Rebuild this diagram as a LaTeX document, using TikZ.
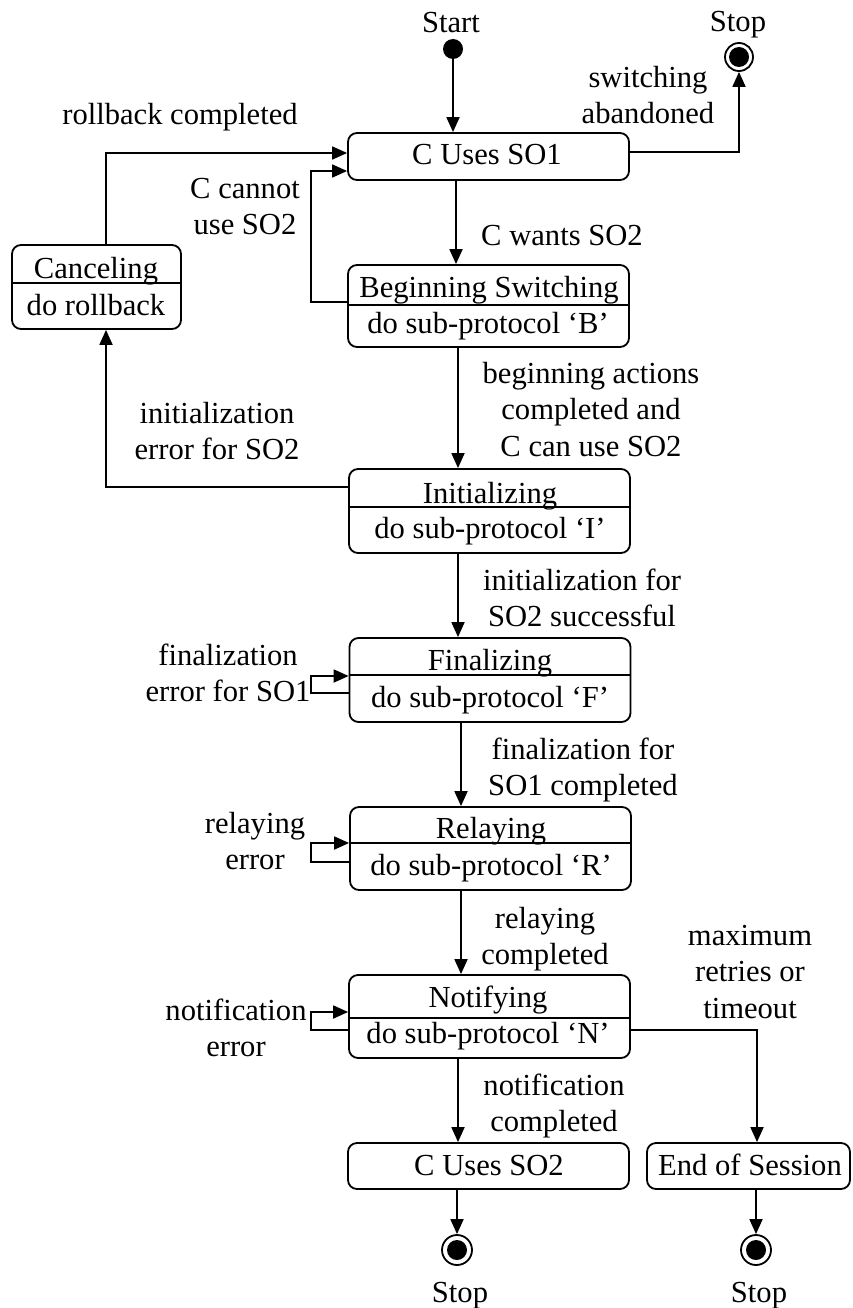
\documentclass[tikz,border=0pt]{standalone}
\usepackage{fontspec}
\setmainfont{Liberation Serif}
\usetikzlibrary{arrows.meta}
\begin{document}
\begin{tikzpicture}[x=1pt,y=-1pt,
  every node/.style={font=\fontsize{30.6}{36.6}\selectfont, inner sep=0pt},
  sbox/.style={draw, line width=1.8pt, rounded corners=9pt, minimum width=281pt},
  tr/.style={line width=1.8pt, -{Triangle[length=15pt,width=13pt]}},
  ln/.style={line width=1.8pt},
  lbl/.style={anchor=north, align=center},
  txt/.style={anchor=base},
  stopc/.style={circle, draw, line width=1.8pt, minimum size=28pt,
    path picture={\fill (path picture bounding box.center) circle (10pt);}},
  startc/.style={circle, fill, minimum size=20pt}
]
\useasboundingbox (0,0) rectangle (852,1308);

% start / stop
\node[txt] (startl) at (451,33) {Start};
\node[startc] (start) at (453,49) {};
\node[txt] (stop1l) at (738,32) {Stop};
\node[stopc] (stop1) at (739,57) {};

% C Uses SO1
\node[sbox, minimum height=47pt] (cus1) at (488.5,156.5) {};
\node[txt] (cus1t) at (487,165) {C Uses SO1};

% Beginning Switching
\node[sbox, minimum height=82pt] (bs) at (488.5,306) {};
\draw[ln] ([yshift=1pt]bs.west) -- ([yshift=1pt]bs.east);
\node[txt] (bst) at (489,297) {Beginning Switching};
\node[txt] (bsa) at (488,333) {do sub-protocol ‘B’};

% Canceling
\node[sbox, minimum width=169pt, minimum height=84pt] (canc) at (96.5,287) {};
\draw[ln] ([yshift=4pt]canc.west) -- ([yshift=4pt]canc.east);
\node[txt] (canct) at (96,278) {Canceling};
\node[txt] (canca) at (96,315) {do rollback};

% Initializing
\node[sbox, minimum height=84pt] (init) at (489.5,511) {};
\draw[ln] ([yshift=4pt]init.west) -- ([yshift=4pt]init.east);
\node[txt] (initt) at (490,503) {Initializing};
\node[txt] (inita) at (490,538) {do sub-protocol ‘I’};

% Finalizing
\node[sbox, minimum height=84pt] (fin) at (490,680) {};
\draw[ln] ([yshift=5pt]fin.west) -- ([yshift=5pt]fin.east);
\node[txt] (fint) at (490,670) {Finalizing};
\node[txt] (fina) at (490,707) {do sub-protocol ‘F’};

% Relaying
\node[sbox, minimum height=83pt] (rel) at (490.5,848.5) {};
\draw[ln] ([yshift=5.5pt]rel.west) -- ([yshift=5.5pt]rel.east);
\node[txt] (relt) at (491,838) {Relaying};
\node[txt] (rela) at (491,875) {do sub-protocol ‘R’};

% Notifying
\node[sbox, minimum height=83pt] (notif) at (489.5,1016.5) {};
\draw[ln] ([yshift=-1.5pt]notif.west) -- ([yshift=-1.5pt]notif.east);
\node[txt] (notift) at (488,1007) {Notifying};
\node[txt] (notifa) at (488,1043) {do sub-protocol ‘N’};

% C Uses SO2 and End of Session
\node[sbox, minimum height=46pt] (cus2) at (488.5,1166) {};
\node[txt] (cus2t) at (489,1175) {C Uses SO2};
\node[sbox, minimum width=203pt, minimum height=46pt] (eos) at (748.5,1166) {};
\node[txt] (eost) at (750,1175) {End of Session};

% bottom stops
\node[stopc, minimum size=30pt] (stop2) at (457,1250) {};
\node[stopc, minimum size=30pt] (stop3) at (756,1250) {};
\node[txt] (stop2l) at (460,1302) {Stop};
\node[txt] (stop3l) at (759,1302) {Stop};

% connectors
\draw[tr] (start) -- (start |- cus1.north);
\draw[tr] ([yshift=4.5pt]cus1.east) -| (stop1);
\draw[tr] ([xshift=9.5pt]canc.north) |- ([yshift=3.5pt]cus1.west);
\draw[tr] ([yshift=4pt]bs.west) -- ++(-36,0) |- ([yshift=-14.5pt]cus1.west);
\draw[tr] ([xshift=-32.5pt]cus1.south) -- ([xshift=-32.5pt]bs.north);
\draw[tr] ([xshift=-30.5pt]bs.south) -- ([xshift=-30.5pt]bs.south |- init.north);
\draw[tr] ([yshift=24pt]init.west) -| ([xshift=9.5pt]canc.south);
\draw[tr] ([xshift=-31.5pt]init.south) -- ([xshift=-31.5pt]init.south |- fin.north);
\draw[tr] ([xshift=-29pt]fin.south) -- ([xshift=-29pt]fin.south |- rel.north);
\draw[tr] ([xshift=-29.5pt]rel.south) -- ([xshift=-29.5pt]rel.south |- notif.north);
\draw[tr] ([xshift=-31.5pt]notif.south) -- ([xshift=-31.5pt]notif.south |- cus2.north);
\draw[tr] ([yshift=-13.5pt]notif.east) -| ([xshift=8.5pt]eos.north);
\draw[tr] (cus2.south -| stop2) -- (stop2);
\draw[tr] (eos.south -| stop3) -- (stop3);
% self loops
\draw[tr] ([yshift=-13pt]fin.west) -- ++(-38,0) |- ([yshift=4pt]fin.west);
\draw[tr] ([yshift=-13.5pt]rel.west) -- ++(-38,0) |- ([yshift=5.5pt]rel.west);
\draw[tr] ([yshift=-13.5pt]notif.west) -- ++(-37,0) |- ([yshift=4.5pt]notif.west);

% labels
\node[lbl] (l1) at (648,61.4) {\strut switching\\abandoned};
\node[txt] (l2) at (180,125) {rollback completed};
\node[lbl] (l3) at (245,172.4) {\strut C cannot\\use SO2};
\node[txt] (l4) at (562,245) {C wants SO2};
\node[lbl] (l5) at (591,357.4) {\strut beginning actions\\completed and\\C can use SO2};
\node[lbl] (l6) at (217,397.4) {\strut initialization\\error for SO2};
\node[lbl] (l7) at (582,564.4) {\strut initialization for\\SO2 successful};
\node[lbl] (l8) at (228,639.4) {\strut finalization\\error for SO1};
\node[lbl] (l9) at (583,733.4) {\strut finalization for\\SO1 completed};
\node[lbl] (l10) at (255,807.4) {\strut relaying\\error};
\node[lbl] (l11) at (545,902.4) {\strut relaying\\completed};
\node[lbl] (l12) at (236,994.4) {\strut notification\\error};
\node[lbl] (l13) at (750,919.4) {\strut maximum\\retries or\\timeout};
\node[lbl] (l14) at (554,1069.4) {\strut notification\\completed};
\end{tikzpicture}
\end{document}
